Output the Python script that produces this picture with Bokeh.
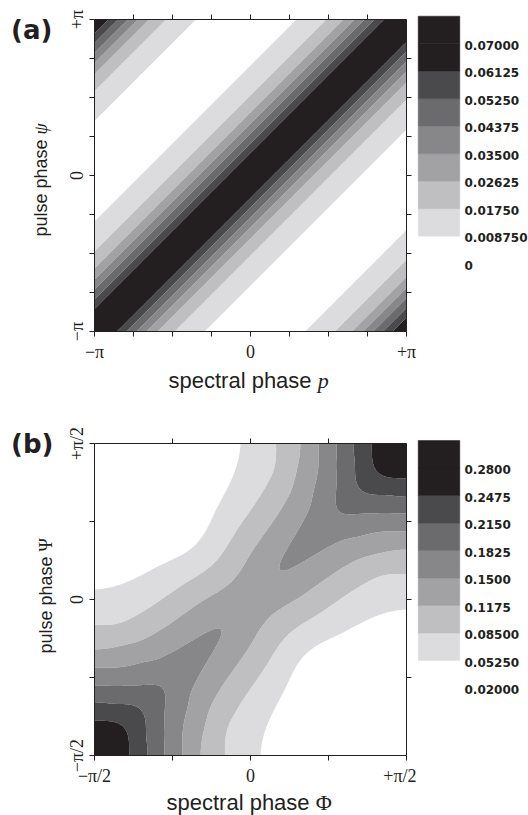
import numpy as np
from bokeh.plotting import figure
from bokeh.layouts import column, row
from bokeh.models import Range1d, FixedTicker, LinearAxis
from bokeh.embed import file_html
from bokeh.resources import INLINE
from bokeh.core.properties import value

# ------------------------------------------------------------------ data
# panel (a): contour levels, colour-bar texts and the stripe profile
levels_a = [0.0, 0.00875, 0.0175, 0.02625, 0.035, 0.04375, 0.0525, 0.06125, 0.07, 0.07875]
cbar_text_a = ["0", "0.008750", "0.01750", "0.02625", "0.03500",
               "0.04375", "0.05250", "0.06125", "0.07000"]
stripe_dist_a = [0.0, 0.144, 0.205, 0.269, 0.333, 0.404, 0.513, 0.705, 1.10]      # |psi - p| / pi
stripe_value_a = [0.075, 0.06125, 0.0525, 0.04375, 0.035, 0.02625, 0.0175, 0.00875, 0.001]
stripe_period_a = 2.055                                                            # in units of pi
tick_text_a = {-1: "\u2212\u03c0", 0: "0", 1: "+\u03c0"}
minor_ticks_a = [-0.75, -0.5, -0.25, 0.25, 0.5, 0.75]                              # every pi/4
box_ticks_a = [-0.75, -0.5, -0.25, 0.0, 0.25, 0.5, 0.75]
xlabel_a = ("spectral phase ", "p")
ylabel_a = ("pulse phase ", "\u03c8")

# panel (b): contour levels, colour-bar texts, profile across and along the diagonal
levels_b = [0.02, 0.0525, 0.085, 0.1175, 0.15, 0.1825, 0.215, 0.2475, 0.28, 0.3125]
cbar_text_b = ["0.02000", "0.05250", "0.08500", "0.1175", "0.1500",
               "0.1825", "0.2150", "0.2475", "0.2800"]
across_b = [0.0, 0.131, 0.187, 0.245, 0.303, 0.368, 0.467, 0.642, 1.0]             # |Phi - Psi| / pi
across_value_b = [0.14, 0.1143, 0.098, 0.0817, 0.0653, 0.049, 0.0327, 0.0163, 0.004]
along_b = [0.0, 0.19, 0.4615, 0.579, 0.659, 0.718, 0.7765, 0.83, 0.889, 1.0]        # |Phi + Psi| / pi
along_value_b = [0.0, 0.01, 0.0266, 0.0448, 0.0618, 0.0788, 0.0949, 0.1121, 0.1285, 0.162]
tick_text_b = {-1: "\u2212\u03c0/2", 0: "0", 1: "+\u03c0/2"}
minor_ticks_b = [-0.5, 0.5]                                                        # every pi/4
box_ticks_b = [-0.5, 0.0, 0.5]
xlabel_b = ("spectral phase ", "\u03a6")
ylabel_b = ("pulse phase ", "\u03a8")

major_ticks = [-1, 0, 1]

# ------------------------------------------------------------------ styles
WHITE = "#ffffff"
GREYS = ["#dcdcde", "#bfbfc1", "#a2a2a5", "#87878a", "#6b6b6e", "#4a4a4c"]
BLACK = "#231f20"
band_colors = [WHITE] + GREYS + [BLACK, BLACK]
INK = "#231f20"
FRAME = 312
SANS = "Liberation Sans"
SERIF = "Liberation Serif"
ITALIC_SYMBOLS = ("p", "\u03c8")
# advance of "spectral phase " and "pulse phase " in Liberation Sans, in em
XLAB_EM = 6.781
YLAB_EM = 5.670


def pchip(xk, yk, x, flat_start):
    xk = np.asarray(xk, float)
    yk = np.asarray(yk, float)
    h = np.diff(xk)
    delta = np.diff(yk) / h
    n = len(xk)
    d = np.zeros(n)
    for k in range(1, n - 1):
        if delta[k - 1] * delta[k] > 0:
            w1 = 2 * h[k] + h[k - 1]
            w2 = h[k] + 2 * h[k - 1]
            d[k] = (w1 + w2) / (w1 / delta[k - 1] + w2 / delta[k])
    d[0] = 0.0 if flat_start else delta[0]
    d[-1] = delta[-1]
    x = np.clip(x, xk[0], xk[-1])
    i = np.clip(np.searchsorted(xk, x) - 1, 0, n - 2)
    t = (x - xk[i]) / h[i]
    h00 = 2 * t**3 - 3 * t**2 + 1
    h10 = t**3 - 2 * t**2 + t
    h01 = -2 * t**3 + 3 * t**2
    h11 = t**3 - t**2
    return h00 * yk[i] + h10 * h[i] * d[i] + h01 * yk[i + 1] + h11 * h[i] * d[i + 1]


# ------------------------------------------------------------------ fields
g = np.linspace(-1.0, 1.0, 321)
GX, GY = np.meshgrid(g, g)

# (a): a function of (psi - p) only, stripes repeated with the observed period
dd = GY - GX
dw = np.abs((dd + stripe_period_a / 2) % stripe_period_a - stripe_period_a / 2)
Za = np.interp(dw, stripe_dist_a, stripe_value_a)

# (b): profile across the diagonal plus rise along it (coordinates in units of pi/2)
V = np.abs(GX - GY) / 2
U = np.abs(GX + GY) / 2
Zb = pchip(across_b, across_value_b, V, True) + pchip(along_b, along_value_b, U, True)


def fill_levels(levels):
    # the two top bands share the same black, draw them as one
    return levels[:-2] + levels[-1:]


def bare(width, height, xr, yr):
    f = figure(width=width, height=height, x_range=Range1d(*xr), y_range=Range1d(*yr),
               output_backend="svg", toolbar_location=None, min_border=0, frame_align=False,
               x_axis_type=None, y_axis_type=None)
    f.outline_line_color = None
    f.background_fill_color = "white"
    f.border_fill_color = "white"
    return f


def make_panel(height, top, Z, levels, tick_text, minor_ticks, box_ticks):
    p = figure(width=356, height=height, x_range=Range1d(-1, 1), y_range=Range1d(-1, 1),
               output_backend="svg", toolbar_location=None, frame_align=False,
               min_border_left=34, min_border_right=10,
               min_border_top=top, min_border_bottom=height - top - FRAME)
    p.background_fill_color = "white"
    p.border_fill_color = "white"
    p.outline_line_color = None
    p.grid.visible = False
    p.contour(x=g, y=g, z=Z, levels=fill_levels(levels), fill_color=band_colors[:-1])

    ticker = FixedTicker(ticks=major_ticks, minor_ticks=minor_ticks)
    for ax in (p.xaxis[0], p.yaxis[0]):
        ax.ticker = ticker
        ax.major_label_overrides = tick_text
        ax.major_label_text_font = SERIF
        ax.major_label_text_font_size = "18px"
        ax.major_label_text_color = INK
        ax.axis_line_color = INK
        ax.major_tick_line_color = INK
        ax.minor_tick_line_color = INK
        ax.major_tick_in = 0
        ax.major_tick_out = 5
        ax.minor_tick_in = 0
        ax.minor_tick_out = 5
    p.xaxis.major_label_standoff = 5
    p.yaxis.major_label_orientation = "vertical"
    p.yaxis.major_label_standoff = 3

    box_ticker = FixedTicker(ticks=[], minor_ticks=box_ticks)
    for side in ("above", "right"):
        ax = LinearAxis(ticker=box_ticker, axis_line_color=INK,
                        major_tick_line_color=INK, minor_tick_line_color=INK,
                        major_tick_in=0, major_tick_out=5, minor_tick_in=0, minor_tick_out=5,
                        major_label_standoff=0)
        p.add_layout(ax, side)
    return p


def make_footer(y0, y1, label, x_start, mid_y):
    f = bare(356, y1 - y0, (60, 416), (-y1, -y0))
    size = 22
    f.text(x=[x_start], y=[-mid_y], text=[label[0]], text_font=value(SANS),
           text_font_size=f"{size}px", text_baseline="middle", text_align="left",
           text_color=INK)
    f.text(x=[x_start + XLAB_EM * size], y=[-mid_y], text=[label[1]],
           text_font=value(SERIF),
           text_font_style="italic" if label[1] in ITALIC_SYMBOLS else "normal",
           text_font_size=f"{size}px", text_baseline="middle", text_align="left",
           text_color=INK)
    return f


def make_gutter(y0, y1, tag, tag_y, label, mid_x, start_y):
    f = bare(60, y1 - y0, (0, 60), (-y1, -y0))
    f.text(x=[10.5], y=[-tag_y], text=[tag], text_font=value("DejaVu Sans"),
           text_font_style="bold", text_font_size="26px", text_baseline="middle",
           text_align="left", text_color=INK)
    size = 18
    f.text(x=[mid_x], y=[-start_y], text=[label[0]], text_font=value(SANS),
           text_font_size=f"{size}px", text_baseline="middle", text_align="left",
           angle=np.pi / 2, text_color=INK)
    f.text(x=[mid_x], y=[-(start_y - YLAB_EM * size)], text=[label[1]],
           text_font=value(SERIF),
           text_font_style="italic" if label[1] in ITALIC_SYMBOLS else "normal",
           text_font_size=f"{size}px", text_baseline="middle", text_align="left",
           angle=np.pi / 2, text_color=INK)
    return f


def make_cbar(y0, y1, levels, texts, bar_top):
    step = levels[1] - levels[0]
    upp = step / 27.5
    y_end = levels[-1] + (bar_top - y0) * upp
    y_start = y_end - (y1 - y0) * upp
    cb = bare(112, y1 - y0, (0, 112), (y_start, y_end))
    cb.quad(left=1.7, right=43.3, bottom=levels[:-1], top=levels[1:],
            fill_color=band_colors, line_color=band_colors, line_width=0.5)
    cb.text(x=48, y=levels[:-1], text=texts, text_font=value("DejaVu Sans"),
            text_font_style="bold", text_font_size="12px", text_baseline="middle",
            text_align="left", y_offset=1.5, text_color=INK)
    return cb


# row (a): page rows 0..408
ga = make_gutter(0, 408, "(a)", 29, ylabel_a, 40, 236)
pa = make_panel(366, 19, Za, levels_a, tick_text_a, minor_ticks_a, box_ticks_a)
fa = make_footer(366, 408, xlabel_a, 168, 380)
ca = make_cbar(0, 408, levels_a, cbar_text_a, 15.7)

# row (b): page rows 408..815
gb = make_gutter(408, 815, "(b)", 443, ylabel_b, 45, 653)
pb = make_panel(382, 35, Zb, levels_b, tick_text_b, minor_ticks_b, box_ticks_b)
fb = make_footer(790, 815, xlabel_b, 166, 802)
cbb = make_cbar(408, 815, levels_b, cbar_text_b, 440)

layout = column(row(ga, column(pa, fa), ca), row(gb, column(pb, fb), cbb))
open("out.html", "w").write(file_html(layout, INLINE))
